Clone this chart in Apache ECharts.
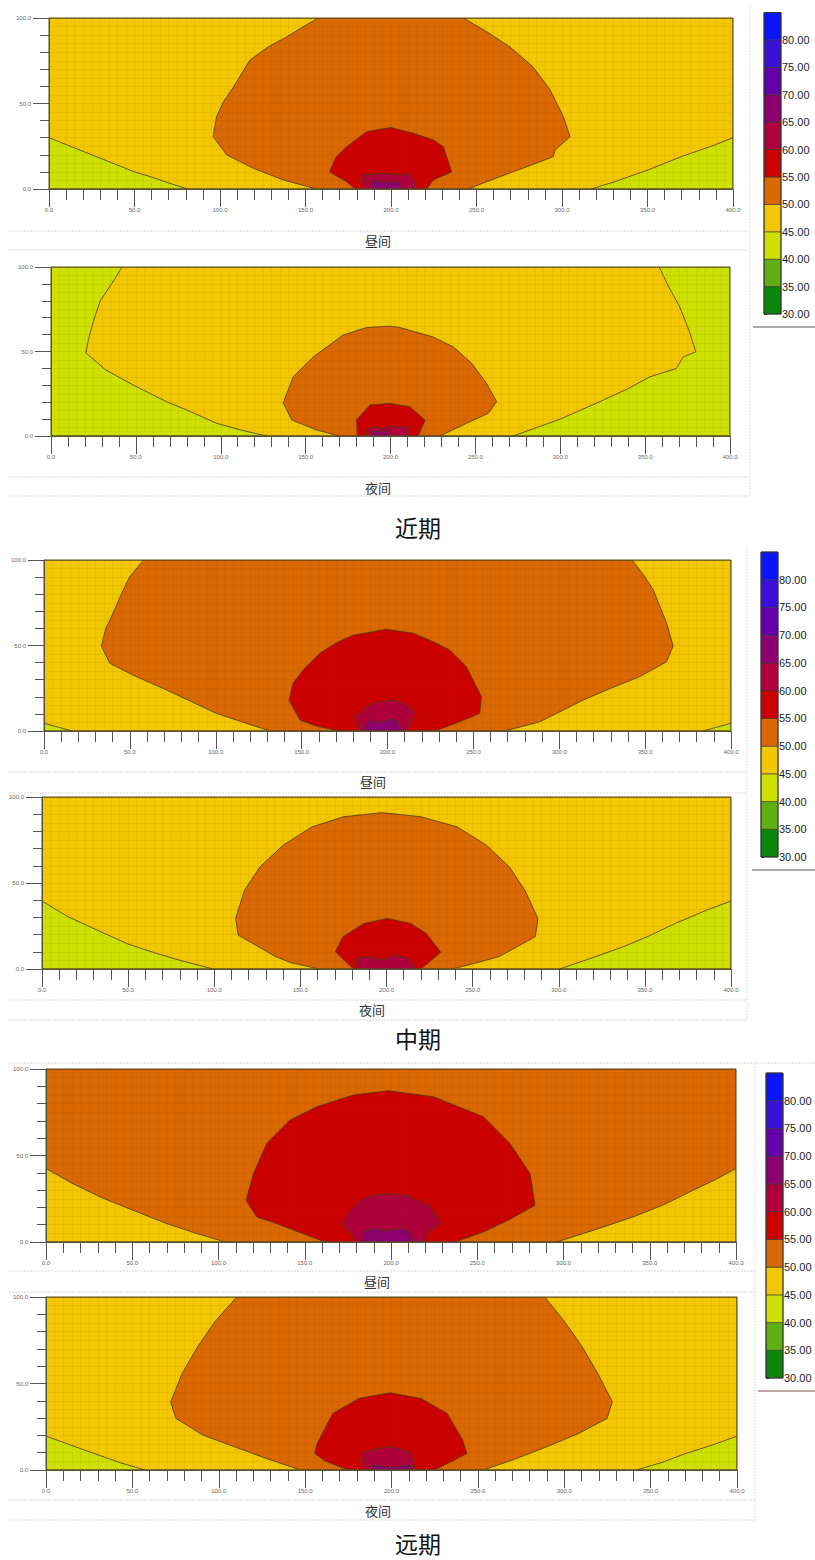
<!DOCTYPE html>
<html><head><meta charset="utf-8">
<script src="https://cdn.jsdelivr.net/npm/echarts@6/dist/echarts.min.js"></script>
<style>html,body{margin:0;padding:0;background:#fff}#c{width:815px;height:1560px}</style>
</head><body><div id="c"></div>
<script>
// ---------- DATA ----------
// level boundaries (dB) and band colours (band i = levels[i]..levels[i+1])
const levels = [30,35,40,45,50,55,60,65,70,75,80,85];
const bandLows = [30,35,40,45,50,55,60,65,70,75,80];
const bandColors = ['#0b870b','#5fae12','#cde000','#f2c600','#da6800','#cc0000','#b0003c','#8e0070','#6400aa','#3a10d8','#0a14ff'];
const xTicks = [0,50,100,150,200,250,300,350,400];
const yTicks = [0,50,100];

// contour regions: [band index, [[x(m), y(m)], ...]]
const jqDay = [ // 近期 昼间
  [3, [[0,0],[400,0],[400,100],[0,100]]],
  [2, [[0,0],[0,30],[10,26],[20,22],[30,18],[40,14],[50,10],[60,7],[70,3.5],[81,0]]],
  [2, [[317,0],[330,4],[340,7.5],[350,11],[360,15],[370,19],[380,22.5],[390,26],[400,30],[400,0]]],
  [4, [[156.5,0],[137,5.3],[119.5,12.1],[104,19.9],[96,30.6],[98,42.3],[102,51],[108,59.8],[117.5,75.4],[128,83],[139,89],[148,94.5],[157.5,100],[242.3,100],[256,92],[269.6,83],[283,71.5],[293,58],[300.8,42.3],[304.7,30.6],[296,22.8],[294.9,18.9],[279.4,13],[263.7,7.2],[245,0]]],
  [5, [[179,0],[174,4.3],[164,10],[168,18.9],[174,24.7],[185.8,33.5],[200,36],[205.3,34.5],[213,32.6],[224.7,28.7],[230.6,24.7],[235.5,10],[224.7,5.3],[221,0]]],
  [6, [[184,0],[182.9,8.2],[195,9],[205,8.5],[211,8.8],[214,4.3],[214,0]]],
  [7, [[189,0],[188,4],[193,5],[197,3.5],[201,4.5],[205,3],[207,0]]]
];
const jqNight = [ // 近期 夜间
  [3, [[0,0],[400,0],[400,100],[0,100]]],
  [2, [[0,0],[0,100],[42,100],[35,89],[29,80],[25,68],[22,57],[20.6,49.2],[31.8,39.4],[48.5,30.1],[68,20.3],[82,14.5],[97.6,7.5],[112,3.5],[127,0]]],
  [2, [[272.3,0],[300,10],[323.3,20.3],[340,28],[352.8,35],[368.5,40],[372.4,46.8],[379.9,49.8],[376,62],[370.4,76.4],[364,88],[358.3,100],[400,100],[400,0]]],
  [4, [[170.2,0],[156.5,3.5],[141.8,9.5],[136.8,19.7],[142.7,35],[154.5,46.8],[172,59.7],[186,64.2],[199.6,65],[205.5,64.2],[225,58.6],[237,52.7],[247.8,43],[256.6,31.1],[262.5,20.3],[257.6,13.4],[244.8,7.5],[229.1,0]]],
  [5, [[180.5,0],[180,9.5],[187.9,18.3],[199.6,19.3],[211.4,17.3],[220.3,9.5],[216.3,0]]],
  [6, [[186,0],[186,4],[190,5.5],[195,4.5],[200,6],[205,5],[210,5.5],[211,0]]],
  [7, [[189,0],[190,3],[194,2.5],[197,3.5],[200,0]]]
];
const zqDay = [ // 中期 昼间
  [3, [[0,0],[400,0],[400,100],[0,100]]],
  [2, [[0,0],[0,4.5],[8,2.3],[16.5,0]]],
  [2, [[383.8,0],[392,2.3],[400,4.5],[400,0]]],
  [4, [[131.4,0],[100.4,10.3],[71.3,24],[51.8,32.7],[38.3,39.6],[33.4,49.7],[36,60],[40.2,68.8],[45,80],[49.9,90.2],[58,100],[342.4,100],[350,90],[354.7,82.5],[359,72],[362.5,63],[366.3,49.7],[362.5,40.5],[346.9,31.8],[330,25],[313.9,18.1],[288.7,5.4],[268.3,0]]],
  [5, [[172.2,0],[158,3],[149,6.4],[142.7,18.1],[145,27.9],[152,37],[160.6,45.4],[170,51.5],[180,56],[199.4,59.5],[215,57.1],[226,52.5],[236.2,47.4],[245.9,37.6],[254.7,20],[253.7,10.3],[242,5.4],[227.5,0]]],
  [6, [[183.9,0],[181,8.4],[187.7,14.2],[195,17],[203.3,18.1],[210,16],[215.9,11.3],[214,5],[211,0]]],
  [7, [[186.8,0],[186.8,3.5],[190,6.4],[196,5],[202,7],[206,5.5],[208,0]]]
];
const zqNight = [ // 中期 夜间
  [3, [[0,0],[400,0],[400,100],[0,100]]],
  [2, [[0,0],[0,39.5],[15.1,30.4],[36.2,20.7],[50,14.5],[66.3,9.1],[82,4.5],[99.5,0]]],
  [2, [[300.5,0],[318,6],[337.6,13],[352,19],[367.7,26.5],[385.8,34.2],[400,39.5],[400,0]]],
  [4, [[161.3,0],[145,3.5],[135.6,7.2],[113.9,19.7],[112.4,29.4],[117.6,45.8],[126.6,59.4],[140,72],[156.7,82.6],[175,88.5],[197.4,90.9],[220,88.5],[241.1,82.6],[258,72],[271.3,59.4],[280.3,45.8],[287.9,29.4],[286.4,18.8],[265.3,7.2],[252,3.5],[238.1,0]]],
  [5, [[180.9,0],[170.3,10.1],[174.8,18.8],[186.9,26.5],[200.5,29.4],[214,26.5],[223.1,20.7],[231.5,9.7],[220,0]]],
  [6, [[183,0],[182.4,6.2],[190,7.2],[197.4,5.2],[205,8.1],[212.5,6.2],[217,0]]]
];
const yqDay = [ // 远期 昼间
  [4, [[0,0],[400,0],[400,100],[0,100]]],
  [3, [[0,0],[0,42.5],[15,34],[31.5,26],[50,18.5],[70.1,10.6],[87,5],[103.9,0]]],
  [3, [[296,0],[318,7],[340.4,14.5],[358,21.5],[375.2,29.9],[388,36],[400,42.5],[400,0]]],
  [5, [[161.8,0],[133.8,10.6],[122.2,14.5],[116,24.1],[120.3,39.6],[128,57],[141.5,70.5],[157,78.2],[178.2,85],[198.5,87.4],[224.6,84],[253.5,72.4],[268.9,57],[280.6,39.6],[283.5,21.2],[268,12.6],[253.5,5.8],[237.1,0]]],
  [6, [[180.2,0],[176,6],[171.5,10.6],[176,18],[182.1,24.1],[190,27],[199.5,28],[210,26.5],[223,20.3],[228.8,10.6],[222,6],[219,0]]],
  [7, [[184,0],[184,5.8],[190,7.5],[198,6.5],[205.3,7.7],[211,6],[213,0]]]
];
const yqNight = [ // 远期 夜间
  [3, [[0,0],[400,0],[400,100],[0,100]]],
  [2, [[0,0],[0,19.6],[14,14.5],[27.7,9.6],[42,4.5],[57.1,0]]],
  [2, [[342,0],[357,4.5],[370.5,9.6],[386,14.5],[400,19.6],[400,0]]],
  [4, [[147.4,0],[128,6.5],[108.9,13.5],[90.8,20.2],[75.2,29.8],[72.2,39.4],[78.8,55.8],[87.8,71.2],[98,86],[110.4,100],[288.7,100],[300,86],[310.4,71.2],[319.4,55.8],[327.8,39.4],[324.8,29.8],[308,21],[292.3,14.4],[272,6.5],[253.2,0]]],
  [5, [[175,0],[162,5],[155.5,9.6],[157,15.4],[166,32.7],[181,41.3],[199.1,44.6],[217.1,41.3],[232.2,32.7],[241.2,17.3],[243.6,9.6],[235,5],[224.7,0]]],
  [6, [[184,0],[182.6,9.6],[190,12],[199.1,13.5],[206,12],[211.1,9.6],[214,0]]],
  [7, [[188.6,0],[189,3],[193,2.5],[200,1.5],[207,2.5],[211,3],[211,0]]]
];
const panelTitles = ['昼间','夜间','昼间','夜间','昼间','夜间'];
const periodTitles = ['近期','中期','远期'];

// ---------- LAYOUT ----------
const panels = [jqDay, jqNight, zqDay, zqNight, yqDay, yqNight];
const plotBoxes = [ // left, top, width, height (px)
  [49,18,684,171],[51,267,679,169],[44,560,687,171],[42,797,689,172],[46,1069,690,173],[46,1297,691,173]
];
const barBoxes = [[764,12.5,17,301.5],[761,552,17,305],[766,1073,17,305]];
const panelTitlePos = [[378,240],[378,487],[373,781],[372,1009],[377,1281],[378,1510]];
const periodPos = [[418,527],[418,1038],[418,1543]];

const grid = [], xAxis = [], yAxis = [], series = [];
const axisGrey = '#555';
plotBoxes.forEach((b, p) => {
  grid.push({left:b[0], top:b[1], width:b[2], height:b[3], show:true, borderColor:'#5a4d20', borderWidth:1, backgroundColor:'rgba(0,0,0,0)', z:10});
  xAxis.push({gridIndex:p, type:'value', min:0, max:400, interval:50, position:'bottom', z:6,
    axisLine:{onZero:false, lineStyle:{color:axisGrey}},
    axisTick:{length:18, lineStyle:{color:axisGrey}},
    minorTick:{show:true, splitNumber:5, length:11, lineStyle:{color:axisGrey}},
    axisLabel:{fontSize:6, color:'#666', margin:18, formatter:v=>v.toFixed(1), showMinLabel:true, showMaxLabel:true},
    splitLine:{show:false}});
  xAxis.push({gridIndex:p, type:'value', min:0, max:400, interval:5, z:5,
    axisLine:{show:false}, axisTick:{show:false}, axisLabel:{show:false},
    splitLine:{show:true, lineStyle:{color:'rgba(60,40,0,0.055)', width:1}}});
  yAxis.push({gridIndex:p, type:'value', min:0, max:100, interval:50, position:'left', z:6,
    axisLine:{show:true, onZero:false, lineStyle:{color:axisGrey}},
    axisTick:{show:true, length:16, lineStyle:{color:axisGrey}},
    minorTick:{show:true, splitNumber:5, length:9, lineStyle:{color:axisGrey}},
    axisLabel:{fontSize:6, color:'#666', margin:18, formatter:v=>v.toFixed(1), showMinLabel:true, showMaxLabel:true},
    splitLine:{show:false}});
  yAxis.push({gridIndex:p, type:'value', min:0, max:100, interval:5, z:5,
    axisLine:{show:false}, axisTick:{show:false}, axisLabel:{show:false},
    splitLine:{show:true, lineStyle:{color:'rgba(60,40,0,0.055)', width:1}}});
  const regions = panels[p];
  series.push({type:'custom', xAxisIndex:2*p, yAxisIndex:2*p, clip:true, z:2, silent:true,
    data: regions.map(r => r[1][0]),
    renderItem: (params, api) => {
      const reg = regions[params.dataIndex];
      return {type:'polygon', shape:{points: reg[1].map(pt => api.coord(pt))},
        style:{fill: bandColors[reg[0]], stroke:'#4a3a14', lineWidth:0.8}};
    }});
});
barBoxes.forEach((b, c) => {
  const g = plotBoxes.length + c;
  grid.push({left:b[0], top:b[1], width:b[2], height:b[3], show:true, borderColor:'#333', borderWidth:1, backgroundColor:'rgba(0,0,0,0)', z:10});
  xAxis.push({gridIndex:g, type:'value', min:0, max:1, show:false});
  yAxis.push({gridIndex:g, type:'value', min:30, max:85, interval:5, position:'right',
    axisLine:{show:false}, axisTick:{show:true, length:3, lineStyle:{color:'#333'}},
    axisLabel:{fontSize:11, color:'#222', margin:1, fontFamily:'Liberation Sans, Arial, sans-serif',
      formatter:v => v >= 85 ? '' : v.toFixed(2), showMinLabel:true, showMaxLabel:true},
    splitLine:{show:false}});
  series.push({type:'custom', xAxisIndex:2*plotBoxes.length + c, yAxisIndex:2*plotBoxes.length + c, silent:true,
    data: bandLows.map(lo => [0, lo]),
    renderItem: (params, api) => {
      const lo = api.value(1), hi = levels[params.dataIndex + 1];
      const a = api.coord([0, lo]), d = api.coord([1, hi]);
      return {type:'rect', shape:{x:a[0], y:d[1], width:d[0]-a[0], height:a[1]-d[1]},
        style:{fill: bandColors[params.dataIndex], stroke:'#333', lineWidth:0.6}};
    }});
});

const graphic = [];
const txt = (s, x, y, size, color) => graphic.push({type:'text', x:x, y:y, silent:true,
  style:{text:s, fill:color, font:size + 'px "Noto Sans CJK SC", sans-serif', align:'center', verticalAlign:'middle', textAlign:'center', textVerticalAlign:'middle'}});
const ln = (x1, y1, x2, y2, col, dash, w) => graphic.push({type:'line', silent:true, shape:{x1, y1, x2, y2},
  style:{stroke:col, lineWidth:w || 1, lineDash:dash}});
panelTitles.forEach((t, i) => txt(t, panelTitlePos[i][0], panelTitlePos[i][1], 13, '#333'));
periodTitles.forEach((t, i) => txt(t, periodPos[i][0], periodPos[i][1], 23, '#111'));
// separators
[[231,9,748],[250,9,748],[477,9,748],[496,9,748],[772,9,747],[793,9,747],[1000,9,747],[1020,9,747],[1063,9,815],[1271,9,755],[1292,9,755],[1500,9,755],[1520,9,755]]
  .forEach(s => ln(s[1], s[0], s[2], s[0], '#d6d6d6', [2,1]));
ln(750,5,750,497,'#e0e0e0',[2,1]);
ln(747,548,747,1020,'#e0e0e0',[2,1]);
ln(755,1063,755,1520,'#e0e0e0',[2,1]);
ln(753,327,815,327,'#aaa',null,2);
ln(752,870,815,870,'#b0a8a8',null,2);
ln(758,1391,815,1391,'#c0a8a8',null,2);

const chart = echarts.init(document.getElementById('c'), null, {renderer:'svg', width:815, height:1560});
chart.setOption({backgroundColor:'#fff', animation:false, grid, xAxis, yAxis, series, graphic});
</script></body></html>
